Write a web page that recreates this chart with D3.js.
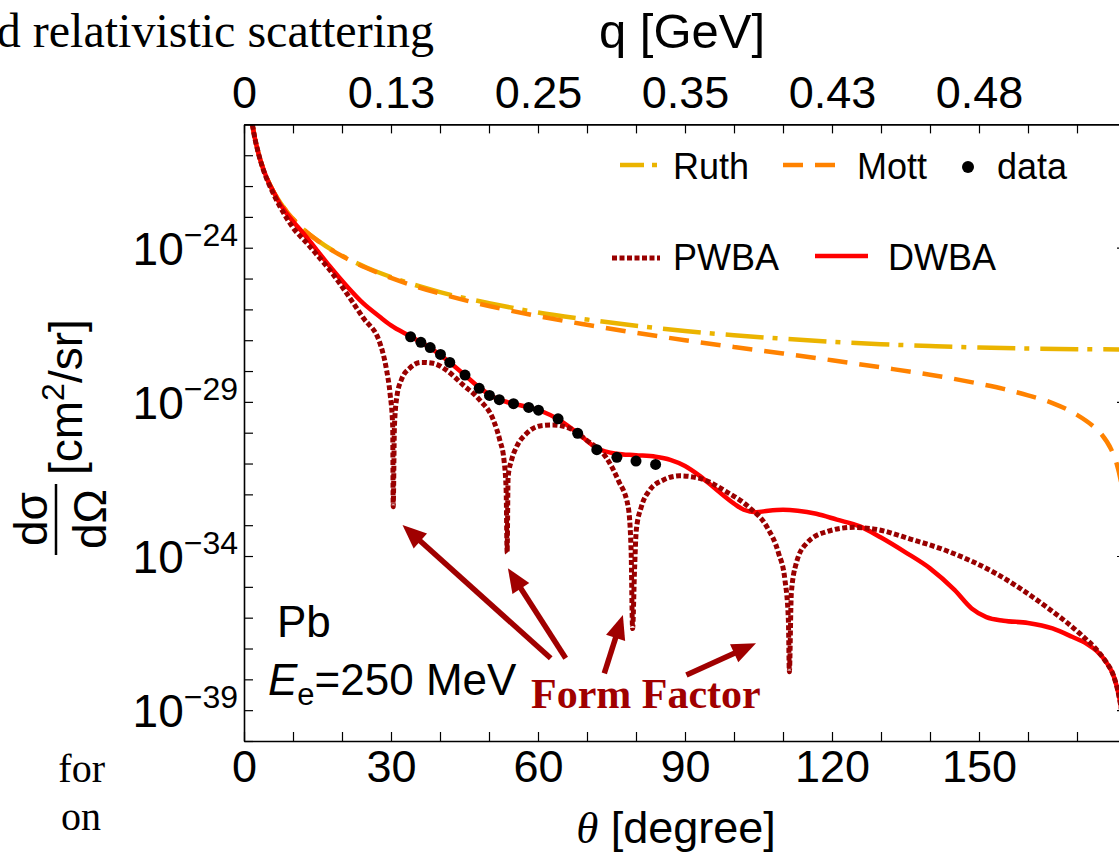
<!DOCTYPE html>
<html>
<head>
<meta charset="utf-8">
<title>Pb elastic scattering</title>
<script src="https://d3js.org/d3.v7.min.js"></script>
<style>
  body { margin: 0; background: #fff; }
  svg text { font-family: "Liberation Sans", Arial, Helvetica, sans-serif; fill: #000; }
  svg .serif { font-family: "Liberation Serif", "Times New Roman", serif; }
</style>
</head>
<body>
<div id="chart"></div>
<script>
"use strict"
// [theta (deg), log10 dsigma/dOmega (cm^2/sr)]
var ruth = [[1.5,-19.77],[2,-20.27],[3,-20.97],[4,-21.47],[5,-21.86],[6,-22.18],[8,-22.67],[10,-23.06],
  [12,-23.38],[15,-23.76],[20,-24.26],[25,-24.64],[30,-24.95],[40,-25.44],[50,-25.8],[60,-26.1],[70,-26.33],
  [80,-26.53],[90,-26.7],[100,-26.84],[110,-26.95],[120,-27.05],[130,-27.13],[140,-27.19],[150,-27.24],
  [160,-27.27],[170,-27.29],[180,-27.3]];
var mott = [[1.5,-19.77],[2,-20.27],[3,-20.97],[4,-21.47],[5,-21.86],[6,-22.18],[8,-22.67],[10,-23.07],
  [12,-23.39],[15,-23.77],[20,-24.27],[25,-24.66],[30,-24.98],[40,-25.49],[50,-25.89],[60,-26.22],[70,-26.5],
  [80,-26.76],[90,-27.0],[100,-27.22],[110,-27.43],[120,-27.65],[130,-27.88],[140,-28.12],[150,-28.41],
  [155,-28.58],[160,-28.79],[165,-29.04],[170,-29.42],[173,-29.75],[175,-30.05],[177,-30.55],[178,-30.95],
  [179,-31.6],[180,-32.5]];
var pwba = [[1.5,-19.77],[2,-20.27],[3,-20.97],[4,-21.5],[5,-21.9],[6,-22.25],[8,-22.85],[10,-23.35],
  [12.9,-23.86],[15,-24.25],[17.6,-24.74],[21,-25.49],[24.3,-26.27],[27.75,-27.1],[29.1,-27.97],[29.8,-28.72],
  [30.35,-29.8],[30.45,-32.4],[30.7,-29.8],[31.2,-28.83],[32.1,-28.29],[33.8,-27.91],[36.2,-27.72],[38.6,-27.75],
  [41.3,-27.97],[44.7,-28.45],[48.1,-28.94],[50.9,-29.59],[52.2,-30.24],[53.06,-30.89],[53.5,-31.86],[53.7,-33.9],
  [53.9,-31.43],[54.6,-30.89],[55.65,-30.45],[57.7,-30.02],[60.4,-29.78],[63.1,-29.75],[66.5,-29.86],[69.9,-30.24],
  [73.9,-30.8],[76.4,-31.55],[78.4,-32.4],[79.0,-33.8],[79.3,-36.35],[79.7,-34.45],[80.06,-33.16],[81.1,-32.4],
  [82.8,-31.86],[85.5,-31.54],[88.9,-31.4],[93,-31.48],[98.4,-31.91],[103.3,-32.45],[106.7,-33.05],[109.1,-33.91],
  [110.4,-34.78],[111.1,-36.07],[111.3,-37.75],[111.7,-35.2],[112.7,-34.24],[114.8,-33.59],[118.9,-33.21],
  [124.4,-33.07],[129.5,-33.15],[136,-33.45],[143.4,-33.83],[153.6,-34.58],[163.9,-35.67],[170.6,-36.52],
  [174.7,-37.17],[176,-37.45],[177.5,-37.9],[178.6,-38.57],[179.5,-39.5],[180,-40.3]];
var dwba = [[1.5,-19.77],[2,-20.27],[3,-20.97],[4,-21.47],[5,-21.87],[6,-22.18],[7.3,-22.56],[9,-22.95],
  [12.1,-23.53],[15,-24.1],[17.5,-24.6],[21,-25.25],[24.3,-25.8],[27.7,-26.24],[30,-26.52],[34,-26.88],[38,-27.25],
  [42,-27.72],[45,-28.12],[48,-28.53],[51,-28.85],[54,-29.02],[58,-29.17],[61,-29.32],[64,-29.55],[68,-30.0],
  [72,-30.5],[76,-30.68],[80,-30.73],[84,-30.78],[87,-30.88],[90,-31.08],[93,-31.4],[96.5,-31.86],[100,-32.3],
  [102,-32.5],[104.5,-32.58],[107,-32.53],[110,-32.5],[113,-32.53],[116.8,-32.63],[121,-32.82],[125.7,-33.04],
  [130,-33.4],[135,-33.88],[140,-34.4],[145,-35.1],[148.5,-35.7],[151.5,-35.98],[155,-36.1],[160,-36.17],
  [165,-36.35],[169,-36.62],[172,-36.85],[174,-37.08],[176,-37.45],[177.5,-37.9],[178.6,-38.57],[179.5,-39.5],
  [180,-40.3]];
var measured = [[34,-26.89],[36.1,-27.07],[38,-27.24],[40.1,-27.46],[42,-27.72],[45.1,-28.13],[48,-28.56],
  [50.1,-28.79],[52.1,-28.93],[55,-29.06],[58.1,-29.18],[60.1,-29.27],[64.1,-29.55],[68.1,-30.02],[72,-30.55],
  [76.1,-30.8],[80,-30.92],[84,-31.03]];

var thetaTicks = [0, 30, 60, 90, 120, 150];
var qLabels = ["0", "0.13", "0.25", "0.35", "0.43", "0.48"];
var decadeLabels = [-24, -29, -34, -39];

var W = 1119, H = 854;
var pl = 244, pr = 1126, pt = 124.4, pb = 741;

var svg = d3.select("#chart").append("svg")
  .attr("width", W).attr("height", H);

var x = d3.scaleLinear().domain([0, 180]).range([pl, pr]);
var y = d3.scaleLog().domain([1e-40, 1e-20]).range([pb, pt]);
var py = function(e) { return y(Math.pow(10, e)); };

svg.append("clipPath").attr("id", "plotclip")
  .append("rect").attr("x", pl).attr("y", pt)
  .attr("width", pr - pl).attr("height", pb - pt);

// curves
var line = d3.line().x(d => x(d[0])).y(d => py(d[1])).curve(d3.curveMonotoneX);
var curves = svg.append("g").attr("clip-path", "url(#plotclip)");

var styles = {
  ruth: {color: "#EBB400", width: 4.5, dash: "38,9,5,11"},
  mott: {color: "#FF8200", width: 4.5, dash: "20,12"},
  dwba: {color: "#FF0000", width: 4.5, dash: null},
  pwba: {color: "#990000", width: 5, dash: "5,2.5"}
};
[[ruth, styles.ruth], [mott, styles.mott], [dwba, styles.dwba], [pwba, styles.pwba]].forEach(function(s) {
  curves.append("path").datum(s[0])
    .attr("d", line)
    .attr("fill", "none")
    .attr("stroke", s[1].color)
    .attr("stroke-width", s[1].width)
    .attr("stroke-dasharray", s[1].dash);
});

curves.selectAll("circle.dot").data(measured).enter()
  .append("circle").attr("class", "dot")
  .attr("cx", d => x(d[0])).attr("cy", d => py(d[1]))
  .attr("r", 5.5).attr("fill", "#000");

// axes
function styleAxis(g) {
  g.attr("font-size", null).attr("font-family", null);
  g.select(".domain").attr("stroke", "#000").attr("stroke-width", 1.6);
  g.selectAll(".tick line").attr("stroke", "#000").attr("stroke-width", 1.2);
}
var minorTheta = d3.range(0, 180, 10);

var xb = svg.append("g").attr("transform", "translate(0," + pb + ")")
  .call(d3.axisBottom(x).tickValues(minorTheta).tickSizeInner(-9).tickSizeOuter(0).tickPadding(9)
    .tickFormat(d => thetaTicks.indexOf(d) >= 0 ? d : ""));
styleAxis(xb);
xb.selectAll("text").style("font-size", "45px");

var xt = svg.append("g").attr("transform", "translate(0," + pt + ")")
  .call(d3.axisTop(x).tickValues(minorTheta).tickSizeInner(-9).tickSizeOuter(0).tickPadding(16)
    .tickFormat(d => thetaTicks.indexOf(d) >= 0 ? qLabels[thetaTicks.indexOf(d)] : ""));
styleAxis(xt);
xt.selectAll("text").style("font-size", "45px");

var decades = d3.range(-40, -19).map(e => Math.pow(10, e));
var yl = svg.append("g").attr("transform", "translate(" + pl + ",0)")
  .call(d3.axisLeft(y).tickValues(decades).tickSizeInner(-9).tickSizeOuter(0).tickFormat(""));
styleAxis(yl);

var yr = svg.append("g").attr("transform", "translate(" + pr + ",0)")
  .call(d3.axisRight(y).tickValues(decadeLabels.map(e => Math.pow(10, e))).tickSizeInner(-9).tickSizeOuter(0).tickFormat(""));
styleAxis(yr);

var ylab = svg.append("g").selectAll("text").data(decadeLabels).enter()
  .append("text")
  .attr("x", pl - 6).attr("y", d => py(d) + 17)
  .attr("text-anchor", "end")
  .style("font-size", "46px");
ylab.append("tspan").text("10");
ylab.append("tspan").attr("dy", -19).style("font-size", "32px").text(d => "\u2212" + Math.abs(d));

// axis titles
svg.append("text").attr("x", 682).attr("y", 48).attr("text-anchor", "middle")
  .style("font-size", "49px").text("q [GeV]");

var xtitle = svg.append("text").attr("x", 676).attr("y", 843).attr("text-anchor", "middle")
  .style("font-size", "45px");
xtitle.append("tspan").attr("class", "serif").style("font-style", "italic").text("\u03b8");
xtitle.append("tspan").text(" [degree]");

var ytitle = svg.append("g").attr("transform", "translate(0,432) rotate(-90)");
ytitle.append("text").attr("x", -87).attr("y", 47).attr("text-anchor", "middle")
  .style("font-size", "46px").text("d\u03c3");
ytitle.append("line").attr("x1", -123).attr("x2", -52).attr("y1", 56).attr("y2", 56)
  .attr("stroke", "#000").attr("stroke-width", 2.5);
ytitle.append("text").attr("x", -87).attr("y", 106).attr("text-anchor", "middle")
  .style("font-size", "46px").text("d\u03a9");
var unit = ytitle.append("text").attr("x", -43).attr("y", 82).style("font-size", "46px");
unit.append("tspan").text("[cm");
unit.append("tspan").attr("dy", -18).style("font-size", "32px").text("2");
unit.append("tspan").attr("dy", 18).text("/sr]");

// legend
var lg = svg.append("g");
var legendLines = [
  {x1: 620, x2: 658, y: 165, s: styles.ruth, dash: "24,8,5,60", label: "Ruth", tx: 673, ty: 179},
  {x1: 783, x2: 837, y: 165, s: styles.mott, dash: styles.mott.dash, label: "Mott", tx: 857, ty: 179},
  {x1: 612, x2: 660, y: 258, s: styles.pwba, dash: styles.pwba.dash, label: "PWBA", tx: 673, ty: 270},
  {x1: 815, x2: 868, y: 256, s: styles.dwba, dash: null, label: "DWBA", tx: 888, ty: 270}
];
legendLines.forEach(function(d) {
  lg.append("line").attr("x1", d.x1).attr("x2", d.x2).attr("y1", d.y).attr("y2", d.y)
    .attr("stroke", d.s.color).attr("stroke-width", d.s.width).attr("stroke-dasharray", d.dash);
  lg.append("text").attr("x", d.tx).attr("y", d.ty).style("font-size", "36px").text(d.label);
});
lg.append("circle").attr("cx", 968).attr("cy", 167).attr("r", 6).attr("fill", "#000");
lg.append("text").attr("x", 997).attr("y", 179).style("font-size", "36px").text("data");

// annotations
svg.append("text").attr("x", 277).attr("y", 637).style("font-size", "44px").text("Pb");
var ee = svg.append("text").attr("x", 268).attr("y", 695).style("font-size", "44px");
ee.append("tspan").style("font-style", "italic").text("E");
ee.append("tspan").attr("dy", 10).style("font-size", "31px").text("e");
ee.append("tspan").attr("dy", -10).text("=250 MeV");

svg.append("text").attr("class", "serif").attr("x", 531).attr("y", 708)
  .style("font-size", "42px").style("font-weight", "bold").style("fill", "#A00000")
  .text("Form Factor");

var arrows = [[550.7, 658.3, 402.5, 525], [565.7, 658.3, 507.9, 568.3],
  [604.3, 673.3, 622.9, 615], [686.4, 675, 756, 643.3]];
var ag = svg.append("g");
arrows.forEach(function(a) {
  var dx = a[2] - a[0], dy = a[3] - a[1], L = Math.sqrt(dx * dx + dy * dy);
  var ux = dx / L, uy = dy / L, hl = 24, hw = 10;
  var bx = a[2] - ux * hl, by = a[3] - uy * hl;
  ag.append("line").attr("x1", a[0]).attr("y1", a[1]).attr("x2", bx + ux * 2).attr("y2", by + uy * 2)
    .attr("stroke", "#A00000").attr("stroke-width", 5.5);
  ag.append("polygon")
    .attr("points", [[a[2], a[3]], [bx - uy * hw, by + ux * hw], [bx + uy * hw, by - ux * hw]].join(" "))
    .attr("fill", "#A00000");
});

// surrounding text cut off from the page
svg.append("text").attr("class", "serif").attr("x", 434).attr("y", 47).attr("text-anchor", "end")
  .style("font-size", "48px").text("d relativistic scattering");
svg.append("text").attr("class", "serif").attr("x", 105).attr("y", 782).attr("text-anchor", "end")
  .style("font-size", "40px").text("for");
svg.append("text").attr("class", "serif").attr("x", 101).attr("y", 830).attr("text-anchor", "end")
  .style("font-size", "40px").text("on");
</script>
</body>
</html>
